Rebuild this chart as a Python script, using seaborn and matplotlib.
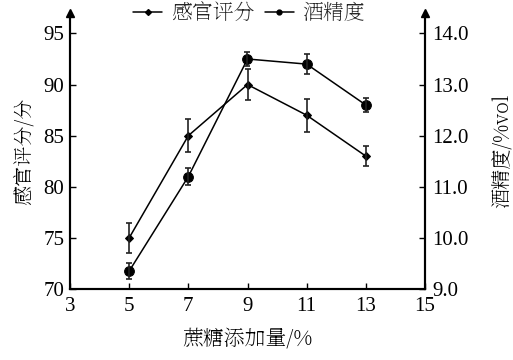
import matplotlib
matplotlib.use("Agg")
import matplotlib.pyplot as plt
import seaborn as sns
import pandas as pd
from matplotlib.lines import Line2D

sugar = [5, 7, 9, 11, 13]
sensory = [75, 85, 90, 87, 83]
sensory_err = [1.5, 1.6, 1.5, 1.6, 1.0]
alcohol = [9.35, 11.2, 13.5, 13.4, 12.6]
alcohol_err = [0.16, 0.16, 0.14, 0.2, 0.14]
left_ticks = [70, 75, 80, 85, 90, 95]
right_ticks = [9.0, 10.0, 11.0, 12.0, 13.0, 14.0]
x_ticks = [3, 5, 7, 9, 11, 13, 15]

sns.set_theme(style="white")
plt.rcParams['font.family'] = ['Liberation Serif', 'Noto Serif SC', 'Noto Sans CJK SC']
plt.rcParams['mathtext.default'] = 'regular'
CJK = ['Noto Serif SC', 'Noto Sans CJK SC', 'Liberation Serif']
CJK_MIX = ['Noto Serif SC', 'Liberation Serif', 'Noto Sans CJK SC']

df = pd.DataFrame({"x": sugar, "s": sensory, "a": alcohol})

fig = plt.figure(figsize=(5.13, 3.6), dpi=100)
ax = fig.add_axes([70/513, 71/360, 355/513, 276/360])
ax2 = ax.twinx()

sns.lineplot(data=df, x="x", y="s", ax=ax, color="black", marker="D", markersize=4,
             markeredgecolor="black", linewidth=1.1, legend=False)
ax.errorbar(sugar, sensory, yerr=sensory_err, fmt="none", ecolor="#222222",
            elinewidth=1.2, capsize=2.5, capthick=1.2)
sns.lineplot(data=df, x="x", y="a", ax=ax2, color="black", marker="o", markersize=7,
             markeredgecolor="black", linewidth=1.1, legend=False)
ax2.errorbar(sugar, alcohol, yerr=alcohol_err, fmt="none", ecolor="#222222",
             elinewidth=1.2, capsize=2.5, capthick=1.2)

ax.set_xlim(3, 15)
ax.set_ylim(70, 97)
ax2.set_ylim(9.0, 14.4)
ax.set_xticks(x_ticks)
ax.set_yticks(left_ticks)
ax2.set_yticks(right_ticks)
ax2.set_yticklabels([f"{v:.1f}" for v in right_ticks])

for a in (ax, ax2):
    for s in a.spines.values():
        s.set_color("black")
        s.set_linewidth(1.5)
    a.spines["top"].set_visible(False)
ax.tick_params(axis="both", direction="in", length=4, width=1, labelsize=15,
               colors="black", pad=4, left=True, bottom=True)
ax.tick_params(axis="x", pad=6)
ax2.tick_params(axis="y", direction="in", length=4, width=1, labelsize=15,
                colors="black", pad=5, right=True)
for lab in ax.get_xticklabels() + ax.get_yticklabels() + ax2.get_yticklabels():
    lab.set_fontfamily('Liberation Serif')
ax.grid(False)
ax2.grid(False)

# arrow heads on vertical axes
ax.plot([0], [1], marker="^", color="black", markersize=6, transform=ax.transAxes, clip_on=False)
ax.plot([1], [1], marker="^", color="black", markersize=6, transform=ax.transAxes, clip_on=False)

ax.set_xlabel("蔗糖添加量/%", fontsize=15, family=CJK_MIX, labelpad=8, color="black")
ax.set_ylabel("感官评分/分", fontsize=14.5, family=CJK_MIX, labelpad=6, color="black")
ax2.set_ylabel("酒精度/%vol", fontsize=14.5, family=CJK_MIX, labelpad=17, color="black")

handles = [Line2D([0], [0], color="black", marker="D", markersize=3, linewidth=1.1),
           Line2D([0], [0], color="black", marker="o", markersize=3.5, linewidth=1.1)]
fig.legend(handles, ["感官评分", "酒精度"], loc="center", bbox_to_anchor=(249/513, 1 - 13/360),
           ncol=2, frameon=False, handlelength=1.4, handletextpad=0.4, columnspacing=0.5,
           prop={"family": CJK, "size": 15})

fig.savefig("out.png", dpi=100)
